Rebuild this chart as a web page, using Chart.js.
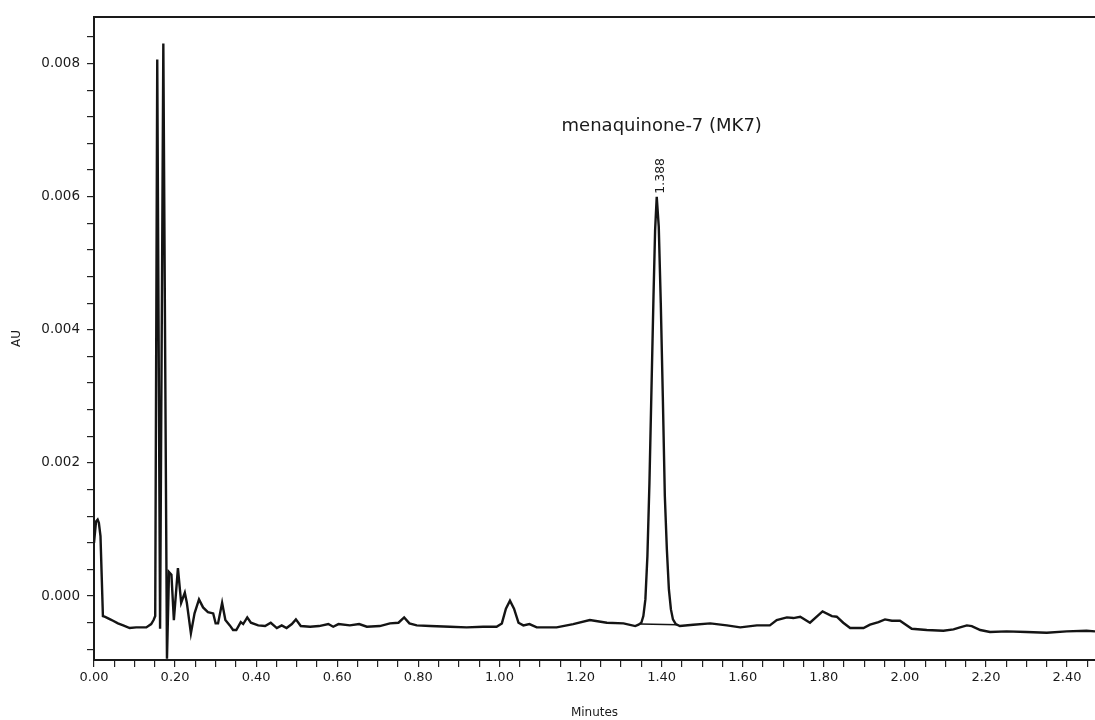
<!DOCTYPE html>
<html>
<head>
<meta charset="utf-8">
<script src="https://cdn.jsdelivr.net/npm/chart.js@4/dist/chart.umd.min.js"></script>
<style>
  html, body { margin: 0; padding: 0; background: #fff; }
  #wrap { width: 1095px; height: 720px; }
</style>
</head>
<body>
<div id="wrap"><canvas id="chrom"></canvas></div>
<script>
// retention time (min) and absorbance (AU)
var times = [
  0.000, 0.005, 0.009, 0.012, 0.016, 0.019, 0.022, 0.026, 0.030, 0.040,
  0.047, 0.059, 0.072, 0.088, 0.104, 0.121, 0.129, 0.141, 0.147, 0.151,
  0.156, 0.163, 0.171, 0.180, 0.185, 0.191, 0.197, 0.207, 0.215, 0.224,
  0.229, 0.239, 0.248, 0.259, 0.269, 0.281, 0.294, 0.300, 0.306, 0.316,
  0.324, 0.335, 0.343, 0.351, 0.362, 0.368, 0.378, 0.387, 0.405, 0.422,
  0.436, 0.451, 0.463, 0.475, 0.488, 0.498, 0.510, 0.533, 0.555, 0.578,
  0.590, 0.603, 0.631, 0.654, 0.673, 0.705, 0.730, 0.751, 0.765, 0.778,
  0.796, 0.829, 0.878, 0.919, 0.960, 0.993, 1.006, 1.016, 1.026, 1.036,
  1.047, 1.059, 1.074, 1.092, 1.125, 1.141, 1.182, 1.223, 1.265, 1.306,
  1.335, 1.343, 1.350, 1.355, 1.360, 1.365, 1.370, 1.375, 1.380, 1.384,
  1.388, 1.393, 1.398, 1.403, 1.408, 1.413, 1.418, 1.423, 1.428, 1.435,
  1.445, 1.478, 1.520, 1.561, 1.594, 1.635, 1.667, 1.684, 1.709, 1.725,
  1.742, 1.766, 1.797, 1.820, 1.832, 1.848, 1.865, 1.898, 1.914, 1.935,
  1.951, 1.968, 1.988, 2.017, 2.054, 2.095, 2.120, 2.136, 2.153, 2.165,
  2.186, 2.210, 2.251, 2.300, 2.350, 2.399, 2.448, 2.469
];
var au = [
  0.00080, 0.00112, 0.00115, 0.00110, 0.00090, 0.00030, -0.00030, -0.00031, -0.00032, -0.00035,
  -0.00037, -0.00041, -0.00044, -0.00048, -0.00047, -0.00047, -0.00047, -0.00042, -0.00036, -0.00030,
  0.00806, -0.00049, 0.00830, -0.00094, 0.00036, 0.00032, -0.00036, 0.00042, -0.00010, 0.00005,
  -0.00010, -0.00056, -0.00026, -0.00005, -0.00017, -0.00024, -0.00026, -0.00041, -0.00041, -0.00010,
  -0.00036, -0.00044, -0.00051, -0.00051, -0.00039, -0.00042, -0.00032, -0.00040, -0.00044, -0.00045,
  -0.00040, -0.00048, -0.00044, -0.00048, -0.00042, -0.00035, -0.00045, -0.00046, -0.00045, -0.00042,
  -0.00046, -0.00042, -0.00044, -0.00042, -0.00046, -0.00045, -0.00041, -0.00040, -0.00032, -0.00041,
  -0.00044, -0.00045, -0.00046, -0.00047, -0.00046, -0.00046, -0.00041, -0.00019, -0.00007, -0.00019,
  -0.00040, -0.00044, -0.00042, -0.00047, -0.00047, -0.00047, -0.00042, -0.00036, -0.00040, -0.00041,
  -0.00045, -0.00043, -0.00040, -0.00030, -0.00005, 0.00060, 0.00170, 0.00310, 0.00450, 0.00550,
  0.00600, 0.00555, 0.00440, 0.00300, 0.00150, 0.00070, 0.00010, -0.00020, -0.00035, -0.00042,
  -0.00045, -0.00043, -0.00041, -0.00044, -0.00047, -0.00044, -0.00044, -0.00036, -0.00032, -0.00033,
  -0.00031, -0.00040, -0.00023, -0.00030, -0.00031, -0.00040, -0.00048, -0.00048, -0.00043, -0.00039,
  -0.00035, -0.00037, -0.00037, -0.00049, -0.00051, -0.00052, -0.00050, -0.00047, -0.00044, -0.00045,
  -0.00051, -0.00054, -0.00053, -0.00054, -0.00055, -0.00053, -0.00052, -0.00053
];

// integration baseline under the MK7 peak
var baseTimes = [1.347, 1.440];
var baseAU = [-0.00042, -0.00043];

// peak label
var peakTime = 1.388;
var peakAU = 0.00600;
var peakLabel = '1.388';
var compoundName = 'menaquinone-7 (MK7)';

// axis range and ticks
var xMin = 0, xMax = 2.469, xMinorStep = 0.05, xMajorEvery = 4;
var yMin = -0.00096, yMax = 0.0087, yMinorStep = 0.0004, yMajorEvery = 5;

function pts(xs, ys) {
  var out = [];
  for (var i = 0; i < xs.length; i++) out.push({ x: xs[i], y: ys[i] });
  return out;
}

function makeTicks(min, max, step) {
  var list = [];
  var n0 = Math.ceil(min / step - 1e-9), n1 = Math.floor(max / step + 1e-9);
  for (var n = n0; n <= n1; n++) list.push({ value: n * step, n: n });
  return list;
}

var FONT = "'DejaVu Sans', Verdana, sans-serif";

var peakText = {
  id: 'peakText',
  afterDatasetsDraw: function(chart) {
    var ctx = chart.ctx;
    var x = chart.scales.x, y = chart.scales.y;
    var px = x.getPixelForValue(peakTime);
    var py = y.getPixelForValue(peakAU);
    ctx.save();
    ctx.fillStyle = '#1a1a1a';
    ctx.font = '18px ' + FONT;
    ctx.textAlign = 'center';
    ctx.textBaseline = 'middle';
    ctx.fillText(compoundName, px + 5, py - 70);
    ctx.translate(px + 4, py - 3);
    ctx.rotate(-Math.PI / 2);
    ctx.font = '12.5px ' + FONT;
    ctx.textAlign = 'left';
    ctx.fillText(peakLabel, 0, 0);
    ctx.restore();
  }
};

new Chart(document.getElementById('chrom'), {
  type: 'line',
  data: {
    datasets: [{
      data: pts(times, au),
      borderColor: '#141414',
      borderWidth: 2.4,
      pointRadius: 0,
      tension: 0,
      fill: false
    }, {
      data: pts(baseTimes, baseAU),
      borderColor: '#141414',
      borderWidth: 1.6,
      pointRadius: 0,
      tension: 0,
      fill: false
    }]
  },
  options: {
    responsive: true,
    maintainAspectRatio: false,
    animation: false,
    layout: { padding: 0 },
    plugins: { legend: { display: false }, tooltip: { enabled: false } },
    scales: {
      x: {
        type: 'linear',
        position: 'bottom',
        min: xMin,
        max: xMax,
        afterBuildTicks: function(s) { s.ticks = makeTicks(xMin, xMax, xMinorStep); },
        afterFit: function(s) { s.height = 60; },
        grid: { display: true, drawOnChartArea: false, drawTicks: true, tickLength: 7, color: '#222', lineWidth: 1.2 },
        border: { display: true, color: '#1a1a1a', width: 2 },
        ticks: {
          autoSkip: false,
          maxRotation: 0,
          padding: 3,
          color: '#1a1a1a',
          font: { family: FONT, size: 13 },
          callback: function(v) {
            var n = Math.round(v / xMinorStep);
            return n % xMajorEvery === 0 ? (n * xMinorStep).toFixed(2) : '';
          }
        },
        title: { display: true, text: 'Minutes', color: '#1a1a1a', font: { family: FONT, size: 12 }, padding: { top: 4, bottom: 0 } }
      },
      top: {
        type: 'linear',
        position: 'top',
        min: xMin,
        max: xMax,
        afterFit: function(s) { s.height = 17; },
        grid: { display: false },
        border: { display: true, color: '#1a1a1a', width: 2 },
        ticks: { display: false }
      },
      y: {
        type: 'linear',
        min: yMin,
        max: yMax,
        afterBuildTicks: function(s) { s.ticks = makeTicks(yMin, yMax, yMinorStep); },
        afterFit: function(s) { s.width = 94; },
        grid: { display: true, drawOnChartArea: false, drawTicks: true, tickLength: 7, color: '#222', lineWidth: 1.2 },
        border: { display: true, color: '#1a1a1a', width: 2 },
        ticks: {
          autoSkip: false,
          padding: 7,
          color: '#1a1a1a',
          font: { family: FONT, size: 13.5 },
          callback: function(v) {
            var n = Math.round(v / yMinorStep);
            return n % yMajorEvery === 0 ? (n * yMinorStep).toFixed(3) : '';
          }
        },
        title: { display: true, text: 'AU', color: '#1a1a1a', font: { family: FONT, size: 12 }, padding: { top: 10, bottom: 4 } }
      }
    }
  },
  plugins: [peakText]
});
</script>
</body>
</html>
